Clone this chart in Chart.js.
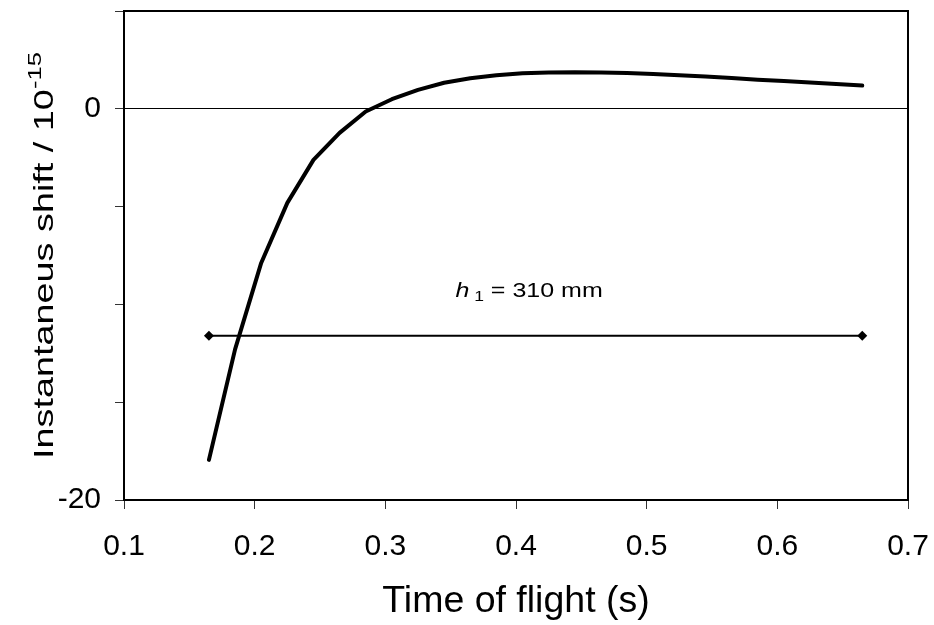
<!DOCTYPE html>
<html>
<head>
<meta charset="utf-8">
<script src="https://cdn.jsdelivr.net/npm/chart.js@4/dist/chart.umd.min.js"></script>
<style>
html,body{margin:0;padding:0;background:#fff;}
#wrap{width:934px;height:625px;position:relative;}
</style>
</head>
<body>
<div id="wrap"><canvas id="c" width="934" height="625"></canvas></div>
<script>
// ---- data ----
const timeOfFlight = [0.165, 0.185, 0.205, 0.225, 0.245, 0.265, 0.285, 0.305, 0.325, 0.345,
                      0.365, 0.385, 0.405, 0.425, 0.445, 0.465, 0.485, 0.505, 0.525, 0.545,
                      0.565, 0.585, 0.605, 0.625, 0.645, 0.665];
const instantShift = [-17.95, -12.3, -7.88, -4.81, -2.61, -1.23, -0.14, 0.49, 0.97, 1.33,
                      1.56, 1.71, 1.82, 1.85, 1.87, 1.86, 1.83, 1.78, 1.71, 1.65,
                      1.58, 1.49, 1.42, 1.35, 1.27, 1.19];
const levelTime = [0.165, 0.665];
const levelValue = [-11.6, -11.6];
const xTickValues = [0.1, 0.2, 0.3, 0.4, 0.5, 0.6, 0.7];
const yTickValues = [5, 0, -5, -10, -15, -20];
const yLabelledTicks = [0, -20];
const xTitle = 'Time of flight (s)';
const yTitleMain = 'Instantaneus shift / 10';
const yTitleSup = '-15';
const noteItalic = 'h';
const noteSub = '1';
const noteRest = ' = 310 mm';
const noteAnchor = {x: 0.41, y: -9.6};

const FONT = '"Liberation Sans", Arial, Helvetica, sans-serif';

const decor = {
  id: 'decor',
  beforeDatasetsDraw(chart) {
    const ctx = chart.ctx, a = chart.chartArea;
    ctx.save();
    ctx.strokeStyle = '#000';
    ctx.lineWidth = 2;
    ctx.strokeRect(a.left, a.top, a.right - a.left, a.bottom - a.top);
    ctx.restore();
  },
  afterDraw(chart) {
    const ctx = chart.ctx, a = chart.chartArea;
    const xs = chart.scales.x, ys = chart.scales.y;
    ctx.save();
    ctx.fillStyle = '#000';
    // x title
    ctx.font = '37.5px ' + FONT;
    ctx.textAlign = 'center';
    ctx.textBaseline = 'alphabetic';
    ctx.fillText(xTitle, (a.left + a.right) / 2, 612);
    // y title (rotated, stretched along its length)
    const sy = 1.35;
    ctx.textAlign = 'left';
    ctx.font = '28px ' + FONT;
    const wMain = ctx.measureText(yTitleMain).width;
    ctx.font = '19px ' + FONT;
    const wSup = ctx.measureText(yTitleSup).width;
    const total = (wMain + wSup) * sy;
    const cy = (a.top + a.bottom) / 2;
    ctx.save();
    ctx.translate(53, cy + total / 2);
    ctx.rotate(-Math.PI / 2);
    ctx.scale(sy, 1);
    ctx.font = '28px ' + FONT;
    ctx.fillText(yTitleMain, 0, 0);
    ctx.font = '19px ' + FONT;
    ctx.fillText(yTitleSup, wMain, -12);
    ctx.restore();
    // annotation
    const sx = 1.25;
    ctx.font = 'italic 20px ' + FONT;
    const w1 = ctx.measureText(noteItalic).width;
    ctx.font = '14px ' + FONT;
    const w2 = ctx.measureText(' ' + noteSub).width;
    ctx.font = '20px ' + FONT;
    const w3 = ctx.measureText(noteRest).width;
    const tw = (w1 + w2 + w3) * sx;
    const px = xs.getPixelForValue(noteAnchor.x) - tw / 2;
    const py = ys.getPixelForValue(noteAnchor.y);
    ctx.save();
    ctx.translate(px, py);
    ctx.scale(sx, 1);
    ctx.font = 'italic 20px ' + FONT;
    ctx.fillText(noteItalic, 0, 0);
    ctx.font = '14px ' + FONT;
    ctx.fillText(' ' + noteSub, w1, 4.5);
    ctx.font = '20px ' + FONT;
    ctx.fillText(noteRest, w1 + w2, 0);
    ctx.restore();
    ctx.restore();
  }
};

new Chart(document.getElementById('c'), {
  type: 'scatter',
  data: {
    datasets: [
      {
        data: timeOfFlight.map((t, i) => ({x: t, y: instantShift[i]})),
        showLine: true,
        borderColor: '#000',
        borderWidth: 4,
        pointRadius: 0,
        tension: 0,
        borderCapStyle: 'round',
        borderJoinStyle: 'round'
      },
      {
        data: levelTime.map((t, i) => ({x: t, y: levelValue[i]})),
        showLine: true,
        borderColor: '#000',
        backgroundColor: '#000',
        borderWidth: 2,
        pointStyle: 'rectRot',
        pointRadius: 5,
        pointBorderWidth: 0,
        pointBackgroundColor: '#000'
      }
    ]
  },
  options: {
    responsive: false,
    animation: false,
    devicePixelRatio: 1,
    layout: {padding: {top: 11, right: 26, left: 0, bottom: 0}},
    plugins: {legend: {display: false}, tooltip: {enabled: false}},
    scales: {
      x: {
        type: 'linear',
        min: 0.1, max: 0.7,
        afterBuildTicks: s => { s.ticks = xTickValues.map(v => ({value: v})); },
        afterFit: s => { s.height = 125; s.paddingLeft = 0; s.paddingRight = 0; },
        ticks: {
          color: '#000',
          font: {family: FONT, size: 30},
          padding: 20,
          maxRotation: 0,
          callback: v => v.toFixed(1)
        },
        grid: {drawOnChartArea: false, tickLength: 9, color: '#000', tickColor: '#333', lineWidth: 1},
        border: {display: false}
      },
      y: {
        min: -20, max: 5,
        afterBuildTicks: s => { s.ticks = yTickValues.map(v => ({value: v})); },
        afterFit: s => { s.width = 124; s.paddingTop = 0; s.paddingBottom = 0; },
        ticks: {
          color: '#000',
          font: {family: FONT, size: 30},
          padding: 14,
          callback: v => yLabelledTicks.includes(v) ? String(v) : ''
        },
        grid: {
          drawOnChartArea: true,
          tickLength: 9,
          color: c => (c.tick && c.tick.value === 0) ? '#000' : 'rgba(0,0,0,0)',
          tickColor: '#333',
          lineWidth: 1
        },
        border: {display: false}
      }
    }
  },
  plugins: [decor]
});
</script>
</body>
</html>
